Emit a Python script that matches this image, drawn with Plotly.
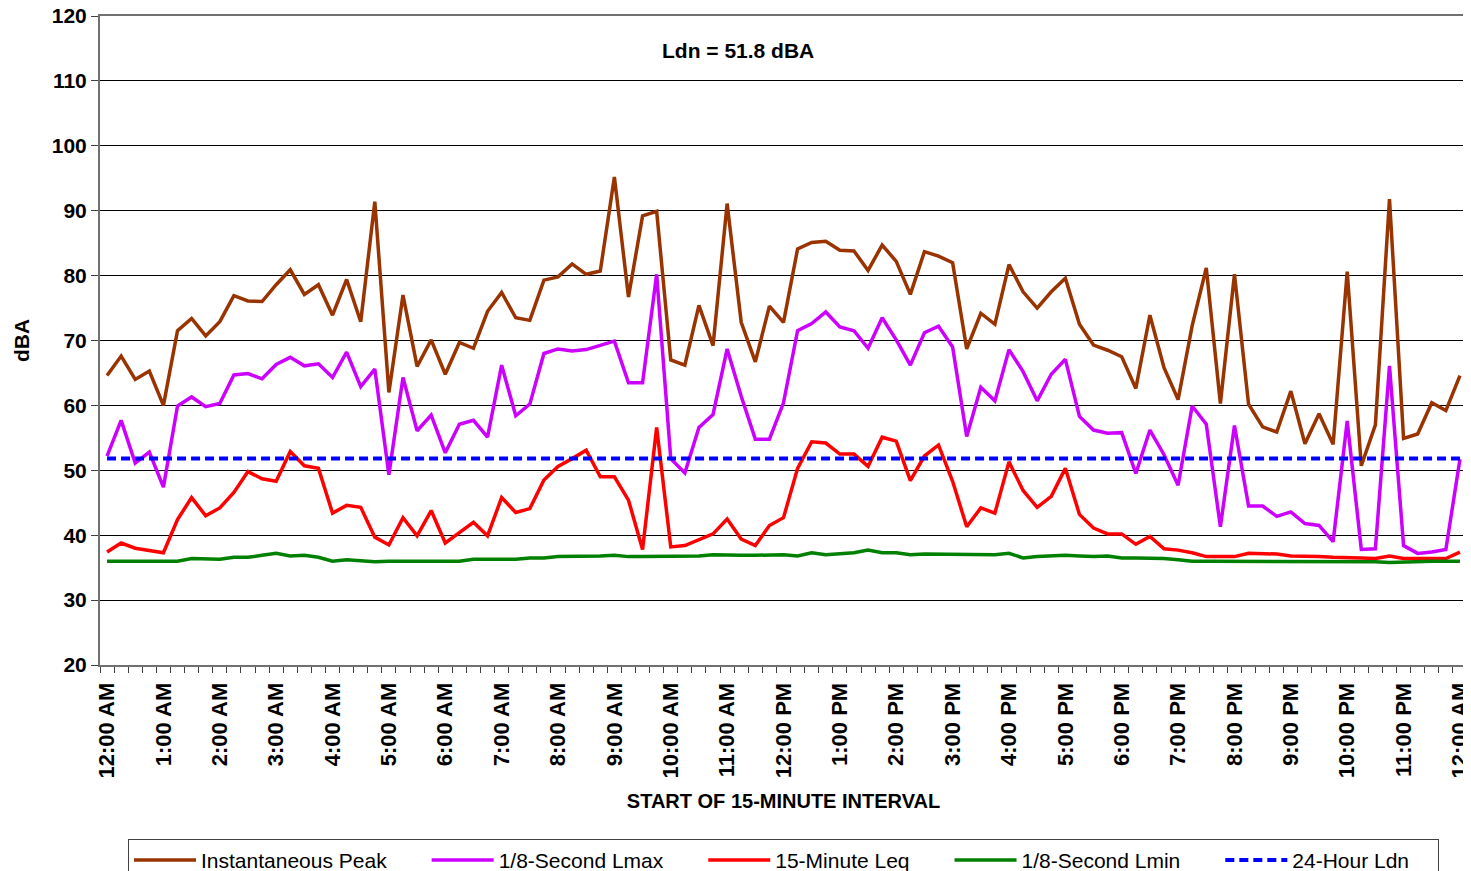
import plotly.graph_objects as go

# 15-minute interval readings, 12:00 AM through 12:00 AM (97 points)
peak = [
    64.6, 67.6, 64.0, 65.3, 60.0, 71.5, 73.4, 70.7, 72.9, 76.9, 76.1, 76.0, 78.6, 80.9, 77.1, 78.6,
    73.9, 79.4, 72.9, 91.4, 62.0, 77.0, 66.0, 70.1, 64.8, 69.7, 68.8, 74.5, 77.4, 73.5, 73.1, 79.3,
    79.8, 81.8, 80.2, 80.7, 95.2, 76.7, 89.2, 89.9, 67.0, 66.2, 75.4, 69.2, 91.1, 72.8, 66.7, 75.3,
    72.8, 84.1, 85.1, 85.3, 83.9, 83.8, 80.8, 84.7, 82.2, 77.1, 83.7, 83.0, 82.0, 68.7, 74.2, 72.5,
    81.7, 77.5, 75.0, 77.5, 79.6, 72.5, 69.3, 68.5, 67.5, 62.6, 73.9, 65.8, 60.9, 72.3, 81.2, 60.3,
    80.2, 60.2, 56.7, 55.9, 62.2, 54.1, 58.7, 54.0, 80.6, 50.7, 57.0, 91.8, 54.9, 55.6, 60.4, 59.2,
    64.6,
]
lmax = [
    52.2, 57.7, 51.1, 52.8, 47.4, 59.9, 61.3, 59.8, 60.3, 64.7, 64.9, 64.1, 66.3, 67.4, 66.1, 66.4,
    64.3, 68.2, 62.9, 65.6, 49.3, 64.3, 56.1, 58.5, 52.7, 57.1, 57.7, 55.1, 66.2, 58.4, 60.2, 68.0,
    68.7, 68.4, 68.6, 69.2, 69.9, 63.5, 63.5, 80.2, 51.8, 49.6, 56.6, 58.6, 68.7, 61.4, 54.8, 54.8,
    60.4, 71.5, 72.6, 74.4, 72.1, 71.5, 68.8, 73.5, 70.1, 66.2, 71.2, 72.2, 69.0, 55.2, 62.8, 60.7,
    68.6, 65.2, 60.7, 64.8, 67.1, 58.3, 56.2, 55.7, 55.8, 49.5, 56.2, 52.4, 47.7, 59.9, 57.1, 41.3,
    56.9, 44.5, 44.5, 42.9, 43.6, 41.8, 41.5, 39.0, 57.6, 37.8, 37.9, 66.1, 38.4, 37.2, 37.4, 37.8,
    51.7,
]
leq = [
    37.4, 38.8, 38.0, 37.7, 37.3, 42.4, 45.8, 43.0, 44.2, 46.6, 49.8, 48.7, 48.3, 52.9, 50.7, 50.3,
    43.4, 44.6, 44.3, 39.7, 38.5, 42.7, 39.9, 43.8, 38.8, 40.4, 42.0, 39.9, 45.8, 43.5, 44.1, 48.5,
    50.6, 51.8, 53.1, 49.0, 49.0, 45.4, 37.8, 56.6, 38.2, 38.4, 39.3, 40.2, 42.5, 39.4, 38.4, 41.5,
    42.7, 50.3, 54.4, 54.2, 52.5, 52.5, 50.6, 55.1, 54.5, 48.4, 52.2, 53.9, 48.3, 41.3, 44.2, 43.4,
    51.3, 46.9, 44.3, 46.0, 50.3, 43.2, 41.1, 40.2, 40.2, 38.6, 39.8, 37.9, 37.7, 37.3, 36.7, 36.7,
    36.7, 37.2, 37.1, 37.1, 36.8, 36.8, 36.7, 36.6, 36.6, 36.5, 36.4, 36.8, 36.4, 36.4, 36.4, 36.4,
    37.4,
]
lmin = [
    36.0, 36.0, 36.0, 35.9, 35.9, 36.0, 36.4, 36.3, 36.3, 36.6, 36.6, 36.9, 37.2, 36.8, 36.9, 36.6,
    36.0, 36.2, 36.0, 35.9, 36.0, 36.0, 36.0, 36.0, 36.0, 36.0, 36.3, 36.3, 36.3, 36.3, 36.5, 36.5,
    36.7, 36.7, 36.8, 36.8, 36.9, 36.7, 36.7, 36.7, 36.7, 36.8, 36.8, 37.0, 36.9, 36.9, 36.9, 36.9,
    37.0, 36.8, 37.3, 37.0, 37.1, 37.3, 37.7, 37.3, 37.3, 37.0, 37.1, 37.1, 37.1, 37.0, 37.0, 37.0,
    37.2, 36.5, 36.7, 36.8, 36.9, 36.8, 36.7, 36.8, 36.5, 36.5, 36.5, 36.4, 36.2, 36.0, 36.0, 36.0,
    36.0, 36.0, 36.0, 36.0, 36.0, 36.0, 36.0, 36.0, 36.0, 36.0, 35.9, 35.8, 35.9, 35.9, 36.0, 36.0,
    36.0,
]
LDN = 51.8

hour_labels = (
    ["12:00 AM"] + [f"{h}:00 AM" for h in range(1, 12)]
    + ["12:00 PM"] + [f"{h}:00 PM" for h in range(1, 12)]
    + ["12:00 AM"]
)

FONT = "Liberation Sans, Arial, sans-serif"
PAD = "\u00a0" * 6  # extra room between legend entries
n = len(peak)
x = list(range(n))

fig = go.Figure()

series = [
    ("Instantaneous Peak", peak, "#993300"),
    ("1/8-Second Lmax", lmax, "#CC00FF"),
    ("15-Minute Leq", leq, "#FF0000"),
    ("1/8-Second Lmin", lmin, "#008000"),
]
for name, ys, color in series:
    fig.add_trace(go.Scatter(x=x, y=ys, mode="lines", name=name + PAD,
                             line=dict(color=color, width=3.5)))

fig.add_trace(go.Scatter(x=[x[0], x[-1]], y=[LDN, LDN], mode="lines",
                         name="24-Hour Ldn" + "\u00a0" * 4,
                         line=dict(color="#0000FF", width=4, dash="9px,5px")))

fig.update_xaxes(
    range=[-0.5, n - 0.5],
    tickmode="array",
    tickvals=x[::4],
    ticktext=hour_labels,
    tickangle=-90,
    ticks="outside",
    ticklen=7,
    tickcolor="rgba(0,0,0,0)",
    tickfont=dict(family=FONT, size=22, color="black", weight="bold"),
    ticklabeloverflow="allow",
    minor=dict(tickmode="array", tickvals=[i - 0.5 for i in range(n + 1)],
               ticks="outside", ticklen=6, tickcolor="#404040", showgrid=False),
    showgrid=False,
    zeroline=False,
    showline=True,
    linecolor="#707070",
    linewidth=2,
    mirror=True,
    title=dict(text="START OF 15-MINUTE INTERVAL", standoff=16,
               font=dict(family=FONT, size=20, color="black", weight="bold")),
)
fig.update_yaxes(
    range=[20, 120],
    dtick=10,
    ticks="outside",
    ticklen=7,
    tickcolor="#404040",
    tickfont=dict(family=FONT, size=21, color="black", weight="bold"),
    ticklabeloverflow="allow",
    showgrid=True,
    gridcolor="black",
    gridwidth=1,
    zeroline=False,
    showline=True,
    linecolor="#707070",
    linewidth=2,
    mirror=True,
    title=dict(text="dBA", standoff=16,
               font=dict(family=FONT, size=21, color="black", weight="bold")),
)

fig.add_annotation(
    text=f"<b>Ldn = {LDN} dBA</b>",
    xref="paper", yref="paper", x=0.4667, y=0.9476,
    xanchor="center", yanchor="middle",
    showarrow=False, font=dict(family=FONT, size=21, color="black"),
)

# page body adds an 8px margin, so the figure is sized to fit the window after it
fig.update_layout(
    width=1463,
    height=863,
    margin=dict(l=92, r=4, t=8, b=206, autoexpand=False),
    paper_bgcolor="white",
    plot_bgcolor="white",
    font=dict(family=FONT, color="black"),
    legend=dict(
        orientation="h",
        x=0.5, xanchor="center",
        y=-0.268, yanchor="top",
        bordercolor="#404040",
        borderwidth=1,
        font=dict(family=FONT, size=21, color="black"),
        itemwidth=62,
    ),
)

fig.write_html("out.html")
